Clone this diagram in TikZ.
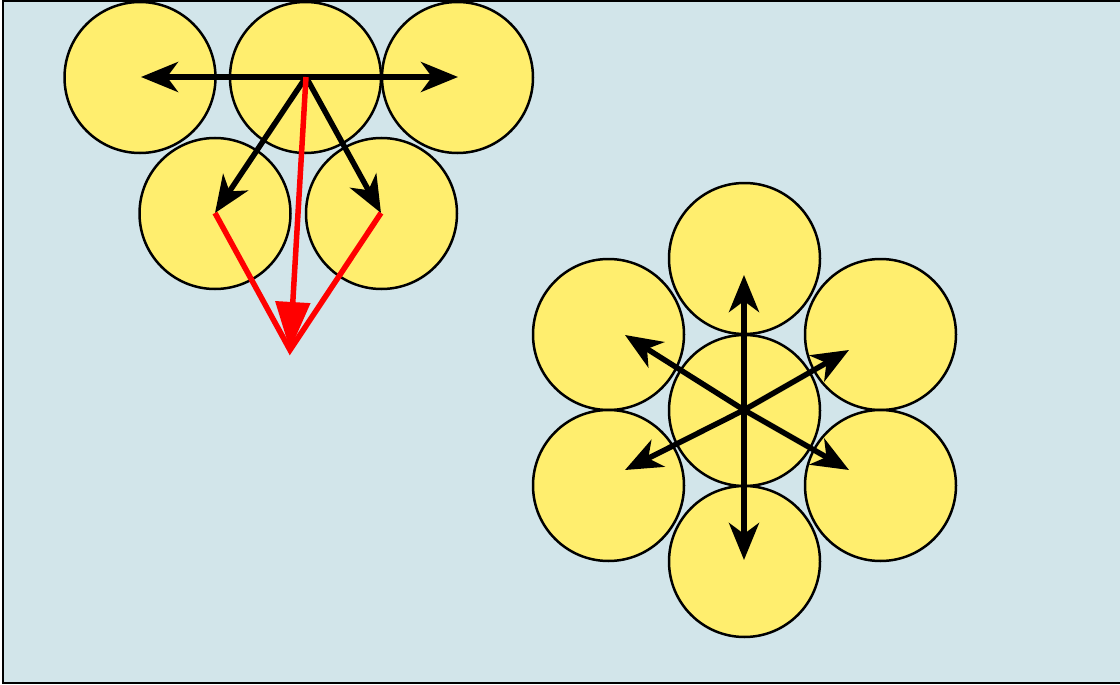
\documentclass[tikz,border=0pt]{standalone}
\usetikzlibrary{arrows.meta}
\definecolor{bgblue}{RGB}{210,229,234}
\definecolor{ball}{RGB}{255,238,110}
\tikzset{
  ballnode/.style={circle,draw=black,line width=2.5pt,fill=ball,minimum size=151pt,inner sep=0pt,outer sep=0pt},
  push/.style={line width=5.5pt,draw=black,-{Stealth[length=37pt,width=30pt,inset=11pt]}},
  sumline/.style={line width=5.5pt,draw=red},
  sumarrow/.style={line width=5.5pt,draw=red,-{Triangle[length=48pt,width=34pt]}}
}
\begin{document}
\begin{tikzpicture}[x=1pt,y=-1pt]
\useasboundingbox (0,0) rectangle (1120,685);
\begin{scope}
\clip (0,0) rectangle (1120,685);
\draw[line width=2.6pt,fill=bgblue] (3,1) rectangle (1130,683);
\end{scope}
% top group
\node[ballnode] (a1) at (140,77.5) {};
\node[ballnode] (a2) at (305.5,77.5) {};
\node[ballnode] (a3) at (457.5,77.5) {};
\node[ballnode] (a4) at (215,213.5) {};
\node[ballnode] (a5) at (381.5,213.5) {};
\coordinate (o) at (306,77);
\coordinate (tl) at (141,77);
\coordinate (tr) at (458,77);
\coordinate (bl) at (215,213);
\coordinate (br) at (381,213);
\coordinate (s) at (290,350);
\draw[push] (o) -- (tl);
\draw[push] (o) -- (tr);
\draw[push] (o) -- (bl);
\draw[push] (o) -- (br);
\draw[sumline] (bl) -- (s) -- (br);
\draw[sumarrow] (o) -- (s);
% hex group
\node[ballnode] (h0) at (744.5,410.5) {};
\node[ballnode] (h1) at (744.5,258.5) {};
\node[ballnode] (h2) at (744.5,561.5) {};
\node[ballnode] (h3) at (608.5,334.5) {};
\node[ballnode] (h4) at (880.5,334.5) {};
\node[ballnode] (h5) at (608.5,485.5) {};
\node[ballnode] (h6) at (880.5,485.5) {};
\coordinate (c) at (744,410);
\coordinate (u) at (744,275);
\coordinate (d) at (744,560);
\coordinate (ul) at (625,335);
\coordinate (ur) at (849,350);
\coordinate (dl) at (625,470);
\coordinate (dr) at (849,470);
\foreach \t in {u,d,ul,ur,dl,dr} \draw[push] (c) -- (\t);
\end{tikzpicture}
\end{document}
